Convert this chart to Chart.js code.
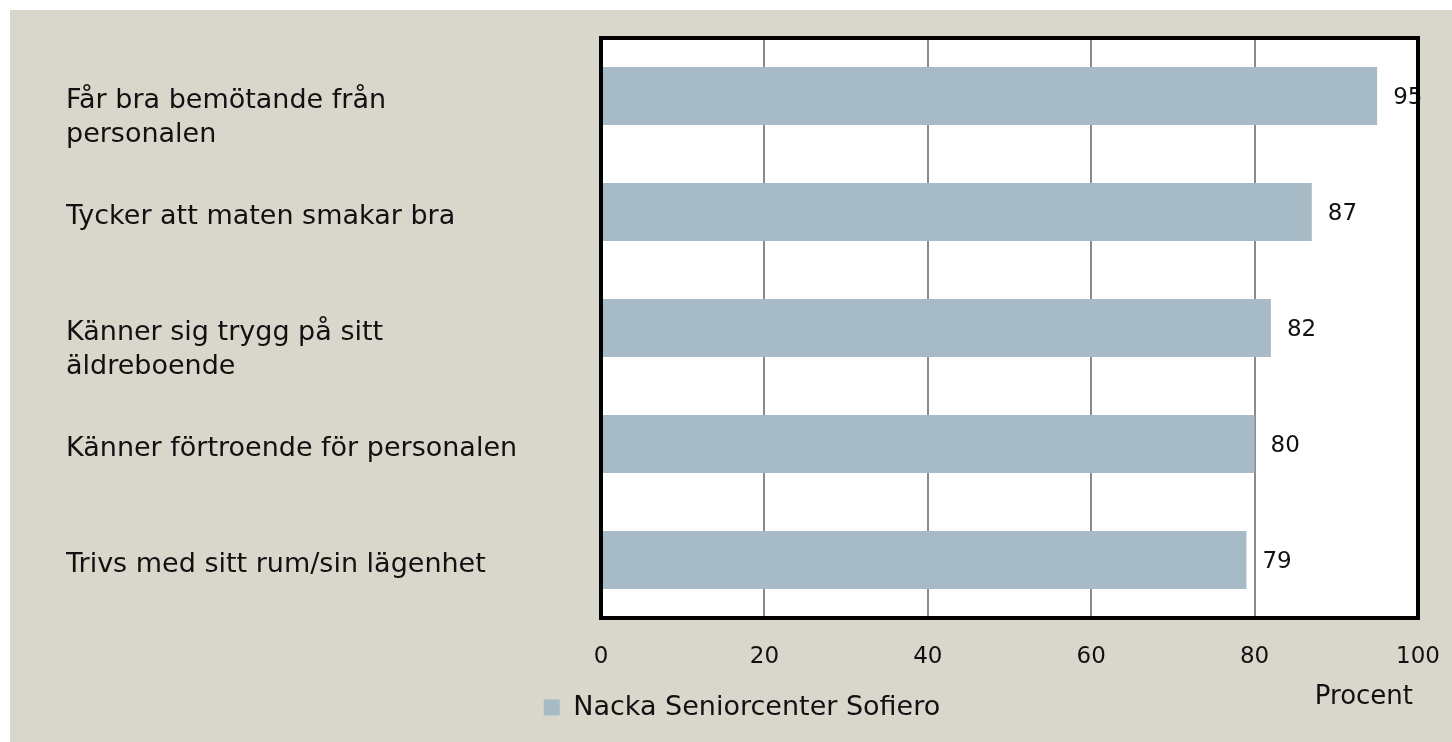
<!DOCTYPE html>
<html lang="sv">
<head>
  <meta charset="UTF-8" />
  <title>Nacka Seniorcenter Sofiero</title>
  <script src="https://cdn.jsdelivr.net/npm/chart.js@4.4.1/dist/chart.umd.min.js"></script>
  <style>
    html, body {
      margin: 0;
      padding: 0;
      background: #fff;
    }
    .wrap {
      position: absolute;
      left: 10px;
      top: 10px;
      width: 1442px;
      height: 732px;
      background: #d9d7cb;
    }
  </style>
</head>
<body>
  <div class="wrap">
    <canvas id="chart"></canvas>
  </div>

  <script>
    const categories = [
      ['Får bra bemötande från', 'personalen'],
      'Tycker att maten smakar bra',
      ['Känner sig trygg på sitt', 'äldreboende'],
      'Känner förtroende för personalen',
      'Trivs med sitt rum/sin lägenhet'
    ];
    const values = [95, 87, 82, 80, 79];
    const seriesName = 'Nacka Seniorcenter Sofiero';
    const xTicks = [0, 20, 40, 60, 80, 100];
    const axisTitle = 'Procent';

    const FONT = "'DejaVu Sans', sans-serif";

    // white plot area + thick black frame
    const frame = {
      id: 'frame',
      beforeDraw(chart) {
        const a = chart.chartArea, c = chart.ctx;
        c.save();
        c.fillStyle = '#fff';
        c.fillRect(a.left, a.top, a.right - a.left, a.bottom - a.top);
        c.restore();
      },
      afterDraw(chart) {
        const a = chart.chartArea, c = chart.ctx;
        c.save();
        c.strokeStyle = '#000';
        c.lineWidth = 4;
        c.strokeRect(a.left, a.top, a.right - a.left, a.bottom - a.top);
        // axis title at the lower right
        const xs = chart.scales.x;
        c.fillStyle = '#111';
        c.font = '26px ' + FONT;
        c.textAlign = 'right';
        c.textBaseline = 'middle';
        c.fillText(axisTitle, xs.right - 5, 687);
        c.restore();
      }
    };

    // value labels next to bar ends
    const barValues = {
      id: 'barValues',
      afterDatasetsDraw(chart) {
        const c = chart.ctx;
        const meta = chart.getDatasetMeta(0);
        c.save();
        c.fillStyle = '#111';
        c.font = '23px ' + FONT;
        c.textAlign = 'left';
        c.textBaseline = 'middle';
        meta.data.forEach((bar, i) => {
          c.fillText(values[i], bar.x + 16, bar.y + 2);
        });
        c.restore();
      }
    };

    new Chart(document.getElementById('chart'), {
      type: 'bar',
      data: {
        labels: categories,
        datasets: [{
          label: seriesName,
          data: values,
          backgroundColor: '#a7bbc6',
          borderWidth: 0,
          barPercentage: 0.5,
          categoryPercentage: 1.0
        }]
      },
      options: {
        indexAxis: 'y',
        responsive: true,
        maintainAspectRatio: false,
        animation: false,
        layout: { padding: { left: 56, right: 34, top: 28, bottom: 11 } },
        scales: {
          x: {
            min: 0,
            max: 100,
            afterBuildTicks(scale) {
              scale.ticks = xTicks.map(v => ({ value: v }));
            },
            afterFit(scale) {
              scale.paddingRight = 0;
              scale.height = scale.height - 5;
            },
            grid: {
              color: ctx => (ctx.tick && (ctx.tick.value === 0 || ctx.tick.value === 100)) ? 'rgba(0,0,0,0)' : '#8a8a8a',
              lineWidth: 2,
              drawTicks: false
            },
            border: { display: false },
            ticks: {
              color: '#111',
              font: { family: FONT, size: 23, lineHeight: 1.0 },
              padding: 28,
              maxRotation: 0
            }
          },
          y: {
            grid: { display: false, drawTicks: false },
            border: { display: false },
            afterFit(scale) { scale.width = 535; },
            ticks: {
              color: '#111',
              crossAlign: 'far',
              labelOffset: 5,
              font: { family: FONT, size: 27, lineHeight: 1.25 },
              callback(value) {
                const l = categories[value];
                return Array.isArray(l) ? [''].concat(l) : l;
              }
            }
          }
        },
        plugins: {
          legend: {
            position: 'bottom',
            labels: {
              color: '#111',
              font: { family: FONT, size: 27 },
              boxWidth: 16,
              boxHeight: 16,
              padding: 2
            }
          },
          tooltip: { enabled: false }
        }
      },
      plugins: [frame, barValues]
    });
  </script>
</body>
</html>
